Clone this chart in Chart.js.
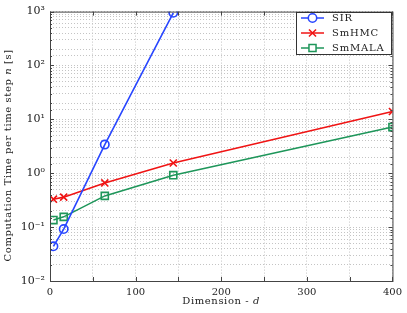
<!DOCTYPE html>
<html>
<head>
<meta charset="utf-8">
<script src="https://cdn.jsdelivr.net/npm/chart.js@4/dist/chart.umd.min.js"></script>
<style>
  html, body { margin: 0; padding: 0; background: #fff; }
  #wrap { width: 407px; height: 313px; }
</style>
</head>
<body>
<div id="wrap"><canvas id="myChart"></canvas></div>
<script>
// data
const dims = [4, 16, 64, 144, 400];
const sirTimes = [0.044, 0.092, 3.4, 950];
const smhmcTimes = [0.33, 0.36, 0.66, 1.55, 14];
const smmalaTimes = [0.135, 0.155, 0.38, 0.92, 7.2];
const seriesNames = ['SIR', 'SmHMC', 'SmMALA'];
const yTickLabels = { '0.01': '10⁻²', '0.1': '10⁻¹', '1': '10⁰', '10': '10¹', '100': '10²', '1000': '10³' };

const serif = "'DejaVu Serif', serif";
const axisColor = '#444';

function toPoints(values) {
    return values.map((v, i) => ({ x: dims[i], y: v }));
}

// draw a title made of [text, italic] parts, centred on (0,0) of the current transform
function drawParts(ctx, parts, size) {
    ctx.letterSpacing = '0.6px';
    let total = 0;
    parts.forEach(p => {
        ctx.font = (p[1] ? 'italic ' : '') + size + 'px ' + serif;
        total += ctx.measureText(p[0]).width;
    });
    let x = -total / 2;
    parts.forEach(p => {
        ctx.font = (p[1] ? 'italic ' : '') + size + 'px ' + serif;
        ctx.fillText(p[0], x, 0);
        x += ctx.measureText(p[0]).width;
    });
}

// frame around the plot area, small inward ticks, axis titles and legend box
const framePlugin = {
    id: 'frame',
    afterDraw(chart) {
        const ctx = chart.ctx;
        const a = chart.chartArea;
        ctx.save();
        ctx.strokeStyle = axisColor;
        ctx.lineWidth = 1;
        ctx.strokeRect(a.left + 0.5, a.top + 0.5, a.right - a.left, a.bottom - a.top);

        // inward tick marks
        ctx.beginPath();
        chart.scales.x.ticks.forEach(t => {
            const px = Math.round(chart.scales.x.getPixelForValue(t.value)) + 0.5;
            ctx.moveTo(px, a.bottom); ctx.lineTo(px, a.bottom - 4);
            ctx.moveTo(px, a.top); ctx.lineTo(px, a.top + 4);
        });
        chart.scales.y.ticks.forEach(t => {
            const py = Math.round(chart.scales.y.getPixelForValue(t.value)) + 0.5;
            const len = yTickLabels[String(t.value)] ? 4 : 2;
            ctx.moveTo(a.left, py); ctx.lineTo(a.left + len, py);
            ctx.moveTo(a.right, py); ctx.lineTo(a.right - len, py);
        });
        ctx.stroke();

        // axis titles
        ctx.fillStyle = '#222';
        ctx.textBaseline = 'middle';
        ctx.textAlign = 'left';
        ctx.save();
        ctx.translate((a.left + a.right) / 2, 301);
        drawParts(ctx, [['Dimension - ', false], ['d', true]], 10);
        ctx.restore();
        ctx.save();
        ctx.translate(8, (a.top + a.bottom) / 2 + 9);
        ctx.rotate(-Math.PI / 2);
        drawParts(ctx, [['Computation Time per time step ', false], ['n', true], [' [s]', false]], 10);
        ctx.restore();
        ctx.letterSpacing = '0px';

        // legend
        const bx = 296, by = 12, bw = 95, bh = 42;
        ctx.fillStyle = '#fff';
        ctx.fillRect(bx, by, bw, bh);
        ctx.strokeStyle = '#333';
        ctx.lineWidth = 1;
        ctx.strokeRect(bx + 0.5, by + 0.5, bw, bh);
        chart.data.datasets.forEach((ds, i) => {
            const yy = by + 6 + i * 15;
            ctx.strokeStyle = ds.borderColor;
            ctx.lineWidth = 1.5;
            ctx.beginPath();
            ctx.moveTo(bx + 5, yy);
            ctx.lineTo(bx + 28, yy);
            ctx.stroke();
            ctx.fillStyle = '#fff';
            Chart.helpers.drawPoint(ctx, {
                pointStyle: ds.pointStyle,
                radius: ds.pointRadius,
                borderWidth: ds.pointBorderWidth
            }, bx + 16.5, yy);
            ctx.fillStyle = '#222';
            ctx.font = '10px ' + serif;
            ctx.letterSpacing = '0.8px';
            ctx.textBaseline = 'middle';
            ctx.fillText(ds.label, bx + 36, yy);
            ctx.letterSpacing = '0px';
        });
        ctx.restore();
    }
};

const chart1 = document.getElementById('myChart');
new Chart(chart1, {
    type: 'line',
    data: {
        datasets: [{
            label: seriesNames[0],
            data: toPoints(sirTimes),
            borderColor: 'rgb(40, 70, 255)',
            backgroundColor: 'transparent',
            pointStyle: 'circle',
            pointRadius: 4.2,
            pointBorderWidth: 1.6,
            borderWidth: 1.6
        }, {
            label: seriesNames[1],
            data: toPoints(smhmcTimes),
            borderColor: 'rgb(240, 20, 20)',
            backgroundColor: 'transparent',
            pointStyle: 'crossRot',
            pointRadius: 5,
            pointBorderWidth: 1.6,
            borderWidth: 1.6
        }, {
            label: seriesNames[2],
            data: toPoints(smmalaTimes),
            borderColor: 'rgb(30, 150, 90)',
            backgroundColor: 'transparent',
            pointStyle: 'rect',
            pointRadius: 5,
            pointBorderWidth: 1.6,
            borderWidth: 1.6
        }]
    },
    options: {
        responsive: true,
        maintainAspectRatio: false,
        animation: false,
        layout: { padding: { top: 9, right: 14, left: 0, bottom: 0 } },
        plugins: {
            legend: { display: false },
            tooltip: { enabled: false }
        },
        scales: {
            x: {
                type: 'linear',
                min: 0,
                max: 400,
                afterFit: (s) => { s.height = 32; },
                border: { display: false, dash: [1, 2] },
                grid: { color: '#c4c4c4', drawTicks: false },
                ticks: {
                    stepSize: 50,
                    padding: 5,
                    color: '#222',
                    font: { family: serif, size: 10 },
                    callback: (v) => (v % 100 === 0 ? v : '')
                }
            },
            y: {
                type: 'logarithmic',
                min: 0.01,
                max: 1000,
                afterFit: (s) => { s.width = 50; },
                border: { display: false, dash: [1, 2] },
                grid: { color: '#c4c4c4', drawTicks: false },
                ticks: {
                    padding: 5,
                    color: '#222',
                    font: { family: serif, size: 11 },
                    autoSkip: false,
                    callback: (v) => yTickLabels[String(v)] || ''
                }
            }
        }
    },
    plugins: [framePlugin]
});
</script>
</body>
</html>
